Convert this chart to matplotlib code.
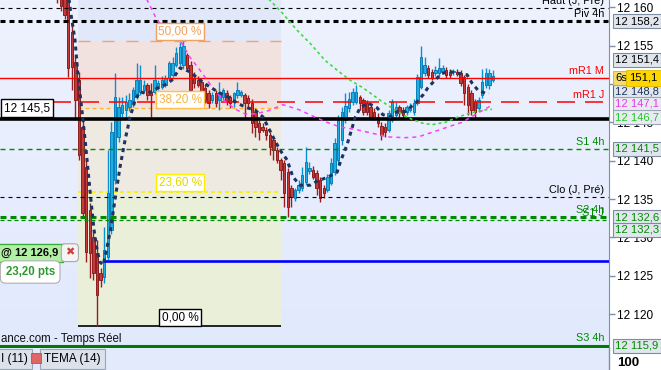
import numpy as np
import matplotlib.pyplot as plt
from matplotlib.colors import LinearSegmentedColormap
from matplotlib.lines import Line2D
from matplotlib.patches import Rectangle
from matplotlib.transforms import blended_transform_factory

plt.rcParams['font.family'] = ['Liberation Sans', 'DejaVu Sans']
plt.rcParams['lines.scale_dashes'] = False

# ---- candles (one per bar, left to right) ----
opens = [
    12172.0, 12169.0, 12166.0, 12161.5, 12156.8, 12152.9, 12150.5, 12144.4, 12139.2, 12133.6,
    12130.1, 12128.0, 12125.4, 12124.8, 12127.5, 12131.0, 12137.5, 12143.1, 12146.2, 12146.6,
    12147.0, 12147.5, 12148.3, 12149.0, 12149.2, 12149.9, 12148.8, 12149.0, 12149.5, 12149.6,
    12149.9, 12150.8, 12151.2, 12152.5, 12152.7, 12152.5, 12153.8, 12152.5, 12150.8, 12150.5,
    12150.3, 12149.5, 12148.8, 12147.9, 12148.8, 12147.9, 12148.3, 12148.8, 12148.3, 12147.9,
    12148.6, 12148.6, 12148.6, 12148.2, 12147.5, 12146.4, 12144.9, 12144.4, 12144.0, 12143.4,
    12142.7, 12141.4, 12140.1, 12139.7, 12138.5, 12136.4, 12135.1, 12136.2, 12136.4, 12137.2,
    12138.6, 12138.8, 12138.4, 12137.5, 12136.4, 12136.2, 12137.1, 12138.5, 12140.1, 12142.7,
    12145.3, 12146.9, 12147.7, 12147.7, 12148.3, 12147.9, 12147.5, 12147.0, 12146.4, 12145.7,
    12144.5, 12144.4, 12144.0, 12145.3, 12146.0, 12147.0, 12146.6, 12146.4, 12146.6, 12146.4,
    12147.5, 12149.6, 12151.4, 12152.1, 12151.6, 12151.4, 12151.4, 12151.6, 12151.8, 12151.6,
    12151.5, 12151.6, 12151.4, 12150.9, 12149.6, 12148.8, 12147.7, 12146.9, 12148.6, 12149.9,
    12149.9, 12150.5,
]
highs = [
    12175.0, 12171.0, 12168.0, 12163.0, 12158.0, 12153.8, 12151.5, 12145.5, 12140.1, 12134.5,
    12131.0, 12129.7, 12126.0, 12131.4, 12141.4, 12145.0, 12151.4, 12148.3, 12148.3, 12148.5,
    12148.8, 12149.6, 12152.7, 12152.5, 12150.5, 12150.1, 12150.1, 12152.5, 12150.5, 12151.0,
    12151.2, 12153.0, 12153.5, 12154.8, 12155.5, 12155.6, 12154.1, 12153.0, 12151.5, 12151.0,
    12150.8, 12150.0, 12149.2, 12149.0, 12149.2, 12150.3, 12149.5, 12149.2, 12148.6, 12149.0,
    12150.3, 12149.2, 12148.8, 12148.5, 12148.0, 12146.8, 12145.3, 12144.9, 12144.4, 12143.7,
    12143.1, 12141.8, 12140.4, 12140.1, 12139.0, 12136.8, 12136.4, 12137.5, 12139.2, 12141.8,
    12139.8, 12139.3, 12138.8, 12137.9, 12136.8, 12138.3, 12140.4, 12143.0, 12146.0, 12147.0,
    12148.8, 12149.0, 12149.5, 12149.9, 12148.6, 12148.2, 12147.9, 12147.3, 12146.9, 12146.2,
    12145.0, 12144.9, 12146.6, 12148.0, 12147.7, 12147.3, 12147.0, 12147.3, 12147.5, 12148.0,
    12151.3, 12155.0, 12153.5, 12152.5, 12152.0, 12152.3, 12153.4, 12152.5, 12152.2, 12152.0,
    12152.0, 12151.9, 12151.8, 12151.2, 12150.0, 12149.2, 12148.0, 12148.3, 12151.9, 12152.1,
    12151.9, 12151.8,
]
lows = [
    12160.6, 12159.5, 12158.5, 12150.9, 12149.2, 12145.3, 12140.1, 12132.5, 12126.8, 12124.7,
    12124.4, 12118.4, 12123.5, 12124.0, 12127.0, 12130.5, 12137.0, 12142.5, 12145.5, 12145.7,
    12146.5, 12147.0, 12148.0, 12148.6, 12148.8, 12147.9, 12145.7, 12148.7, 12149.2, 12149.3,
    12149.6, 12150.5, 12150.9, 12152.2, 12152.4, 12152.0, 12151.8, 12148.8, 12149.5, 12149.6,
    12147.9, 12147.5, 12146.9, 12147.5, 12147.0, 12146.6, 12147.9, 12147.3, 12146.9, 12147.0,
    12148.2, 12148.3, 12145.7, 12146.9, 12143.6, 12143.1, 12142.7, 12143.7, 12142.7, 12140.7,
    12140.1, 12139.7, 12137.5, 12134.0, 12132.7, 12134.0, 12134.8, 12135.8, 12136.0, 12136.8,
    12138.2, 12137.6, 12135.5, 12134.6, 12135.1, 12135.9, 12136.8, 12138.1, 12139.6, 12142.0,
    12144.9, 12146.4, 12147.3, 12147.4, 12146.6, 12145.9, 12146.0, 12145.3, 12145.3, 12144.4,
    12142.7, 12143.1, 12143.7, 12145.0, 12145.7, 12145.7, 12145.5, 12146.0, 12146.3, 12146.0,
    12147.2, 12149.3, 12151.0, 12150.8, 12150.5, 12151.0, 12151.0, 12151.3, 12150.8, 12150.8,
    12151.2, 12151.0, 12149.8, 12147.2, 12145.9, 12145.9, 12145.5, 12146.5, 12148.2, 12149.5,
    12149.4, 12150.2,
]
closes = [
    12163.0, 12160.2, 12159.0, 12152.1, 12152.2, 12147.9, 12140.7, 12133.2, 12128.1, 12128.0,
    12125.4, 12122.5, 12124.4, 12128.4, 12135.8, 12143.7, 12148.3, 12147.0, 12147.3, 12147.7,
    12147.9, 12149.2, 12150.5, 12150.5, 12149.9, 12148.6, 12148.6, 12150.5, 12150.1, 12150.5,
    12150.8, 12152.7, 12152.7, 12154.0, 12154.8, 12155.0, 12152.1, 12149.2, 12150.1, 12149.9,
    12148.3, 12147.9, 12147.5, 12148.6, 12147.5, 12149.0, 12149.2, 12147.7, 12147.5, 12148.8,
    12149.2, 12149.0, 12147.5, 12147.5, 12144.9, 12144.4, 12143.7, 12144.0, 12143.4, 12141.8,
    12141.4, 12140.1, 12138.8, 12135.8, 12134.0, 12135.3, 12136.2, 12136.8, 12138.1, 12139.8,
    12139.1, 12137.9, 12136.4, 12135.1, 12135.8, 12137.9, 12139.7, 12142.3, 12145.3, 12146.4,
    12147.1, 12148.0, 12149.0, 12149.0, 12147.5, 12146.4, 12146.4, 12145.7, 12145.7, 12144.9,
    12143.4, 12143.7, 12146.2, 12147.7, 12147.0, 12146.2, 12146.0, 12147.0, 12147.0, 12147.5,
    12150.9, 12153.5, 12152.5, 12151.2, 12150.8, 12151.8, 12152.1, 12152.1, 12151.2, 12151.2,
    12151.7, 12151.3, 12150.1, 12148.8, 12147.3, 12146.6, 12146.4, 12147.9, 12150.3, 12151.4,
    12151.4, 12151.1,
]

# ---- indicator curves, read at bar positions ----
navy_x = [2.9, 3.8, 4.9, 5.7, 6.8, 7.7, 8.5, 9.3, 10.2, 11.0, 11.8, 12.7, 13.2, 14.6, 16.0,
          17.4, 18.8, 20.2, 21.6, 22.9, 24.3, 26.3, 27.9, 29.9, 31.8, 34.1, 36.8, 39.6, 42.4,
          45.2, 47.9, 49.9, 52.7, 54.9, 57.1, 58.5, 59.9, 61.8, 63.8, 65.4, 67.4, 70.2, 72.4,
          74.9, 77.7, 78.5, 79.3, 80.4, 81.3, 82.7, 84.1, 86.3, 88.8, 90.4, 92.4, 94.3, 96.6,
          97.9, 99.9, 101.6, 102.9, 104.9, 106.8, 109.1, 111.3, 113.8, 115.2, 116.8, 118.8, 119.9]
navy_y = [12162.2, 12159.0, 12155.7, 12151.2, 12146.6, 12142.7, 12138.8, 12134.9, 12130.9,
          12128.4, 12126.8, 12126.4, 12127.4, 12130.6, 12134.9, 12139.2, 12142.7, 12145.7,
          12147.9, 12149.0, 12148.8, 12149.0, 12149.5, 12149.9, 12150.5, 12152.1, 12151.6,
          12150.5, 12149.6, 12148.8, 12148.2, 12147.5, 12146.9, 12146.6, 12145.7, 12144.4,
          12143.1, 12141.4, 12140.1, 12137.9, 12136.8, 12136.8, 12137.4, 12137.8, 12138.5,
          12139.7, 12140.7, 12142.0, 12143.4, 12145.6, 12146.9, 12147.5, 12146.9, 12146.0,
          12145.7, 12146.4, 12146.4, 12146.9, 12147.7, 12148.6, 12149.5, 12150.5, 12151.4,
          12151.6, 12151.4, 12151.2, 12150.1, 12149.2, 12148.8, 12148.8]

pink_x = [22.9, 27.7, 34.6, 36.8, 39.6, 41.6, 44.3, 47.1, 49.9, 52.1, 54.9, 58.5, 62.7, 67.4,
          71.0, 74.9, 78.5, 83.5, 88.2, 91.8, 96.6, 100.2, 104.1, 108.5, 112.4, 116.0, 120.2]
pink_y = [12162.9, 12158.3, 12155.3, 12153.5, 12151.8, 12150.5, 12148.8, 12147.5, 12146.6,
          12146.1, 12146.1, 12146.5, 12147.3, 12146.6, 12145.8, 12145.0, 12144.4, 12144.0,
          12143.5, 12143.1, 12143.0, 12143.1, 12143.7, 12144.4, 12145.0, 12146.0, 12147.1]

green_x = [56.8, 62.4, 66.6, 70.2, 74.3, 77.7, 81.3, 84.9, 89.6, 93.8, 97.4, 101.3, 104.1,
           107.7, 111.3, 114.6, 118.2, 120.7]
green_y = [12162.0, 12159.3, 12157.0, 12155.3, 12153.1, 12151.8, 12150.5, 12149.5, 12147.9,
           12146.6, 12145.6, 12144.9, 12144.7, 12145.0, 12145.7, 12146.2, 12146.6, 12146.7]

# ---- horizontal levels ----
HAUT_JP = 12159.9
PIV_4H = 12158.2
MR1_M = 12150.8
MR1_J = 12147.65
LAST_MARK = 12145.5
S1_4H = 12141.5
CLO_JP = 12135.3
S2_4H = 12132.6
S1_J = 12132.3
ORDER = 12126.9
S3_4H = 12115.9
HIGH_MARK = 12151.4
ORDER_PTS = 23.20

# fibonacci retracement (bar span, 0 % level, full range)
FIB_START, FIB_END = 5.7, 62.1
FIB_LOW, FIB_RANGE = 12118.4, 74.45
fib_pcts = [0.0, 0.236, 0.382, 0.5]
fib_labels = ['0,00 %', '23,60 %', '38,20 %', '50,00 %']

MR1_J_START = -1.2
ORDER_START = 12.7
FIB_LABEL_X = 34.1

W, H = 661, 370
AX_W, AX_H = 609, 348
PX_PER_BAR, X0_PX = 3.6, 57.4
PX_PER_PT, TOP_PRICE = 7.67, 12160.95


def fmt(p):
    return f"{p:,.1f}".replace(',', ' ').replace('.', ',')


def dash(on, off):
    return (0, (on * 0.72, off * 0.72))


def fib_level(p):
    return FIB_LOW + p * FIB_RANGE


fig = plt.figure(figsize=(W / 100, H / 100), dpi=100, facecolor='white')
ax = fig.add_axes([0, (H - AX_H) / H, AX_W / W, AX_H / H])

bg = LinearSegmentedColormap.from_list('bg', ['#eef2fd', '#e1e9fe'])
ax.imshow(np.linspace(0, 1, 256).reshape(-1, 1), extent=[0, 1, 0, 1],
          transform=ax.transAxes, cmap=bg, aspect='auto', zorder=0)

xlo = -X0_PX / PX_PER_BAR
xhi = (AX_W - X0_PX) / PX_PER_BAR
ylo = TOP_PRICE - AX_H / PX_PER_PT
ax.set_xlim(xlo, xhi)
ax.set_ylim(ylo, TOP_PRICE)

# fib zones
fx = [FIB_START, FIB_END]
ax.fill_between(fx, fib_level(0.5), TOP_PRICE + 5, color='#e1e8fa', lw=0, zorder=0.5)
ax.fill_between(fx, fib_level(0.382), fib_level(0.5), color='#f2e2df', lw=0, zorder=0.5)
ax.fill_between(fx, fib_level(0.236), fib_level(0.382), color='#eeeae2', lw=0, zorder=0.5)
ax.fill_between(fx, fib_level(0.0), fib_level(0.236), color='#e9efd9', lw=0, zorder=0.5)
ax.hlines(fib_level(0.0), FIB_START, FIB_END, color='black', lw=1.2, zorder=2)
ax.hlines(fib_level(0.5), FIB_START, FIB_END, color='#f3a36a', lw=1.0,
          linestyle=dash(12, 12), zorder=2)
ax.hlines(fib_level(0.382), FIB_START, FIB_END, color='#ffb52e', lw=1.0,
          linestyle=dash(4, 3), zorder=2)
ax.hlines(fib_level(0.236), FIB_START, FIB_END, color='#ffee00', lw=1.2,
          linestyle=dash(4, 3), zorder=2)

fib_styles = {'0,00 %': ('black', 'black'), '23,60 %': ('#e0d800', '#ffee00'),
              '38,20 %': ('#f7b440', '#ffc04d'), '50,00 %': ('#f5a05a', '#f0a060')}
for pct, lab in zip(fib_pcts, fib_labels):
    tc, ec = fib_styles[lab]
    ax.annotate(lab, (FIB_LABEL_X, fib_level(pct)), xytext=(0, 2.2), textcoords='offset points',
                ha='center', va='bottom', fontsize=8.5, color=tc, zorder=7,
                bbox=dict(boxstyle='square,pad=0.22', fc='white', ec=ec, lw=1))

# candles
idx = np.arange(len(opens))
o, h, l, c = (np.array(v) for v in (opens, highs, lows, closes))
up = c >= o
body_lo = np.minimum(o, c)
body_h = np.maximum(np.abs(c - o), 0.15)
ax.vlines(idx[up], l[up], h[up], color='#0a8fd0', lw=1.0, zorder=3)
ax.vlines(idx[~up], l[~up], h[~up], color='#9a1c1c', lw=1.0, zorder=3)
ax.bar(idx[up], body_h[up], bottom=body_lo[up], width=0.72, color='#1eaee3',
       edgecolor='#0a7db8', lw=0.7, zorder=3.2)
ax.bar(idx[~up], body_h[~up], bottom=body_lo[~up], width=0.72, color='#c43a3a',
       edgecolor='#8e1d1d', lw=0.7, zorder=3.2)

# horizontal levels
ax.axhline(HAUT_JP, color='black', lw=0.8, linestyle=dash(4, 4), zorder=4)
ax.axhline(PIV_4H, color='black', lw=2.2, linestyle=dash(5, 4), zorder=4)
ax.axhline(MR1_M, color='#ff0000', lw=1.0, zorder=4)
ax.hlines(MR1_J, MR1_J_START, xhi, color='#ff0000', lw=1.1, linestyle=dash(18, 10), zorder=4)
ax.axhline(LAST_MARK, color='black', lw=2.6, zorder=4.5)
ax.axhline(S1_4H, color='#008a00', lw=1.0, linestyle=dash(5, 4), zorder=4)
ax.axhline(CLO_JP, color='black', lw=0.8, linestyle=dash(4, 4), zorder=4)
ax.axhline(S2_4H, color='#008a00', lw=2.2, linestyle=dash(6, 4), zorder=4)
ax.axhline(S1_J, color='#008a00', lw=0.9, linestyle=dash(4, 3), zorder=4)
ax.hlines(ORDER, ORDER_START, xhi, color='#0000ff', lw=1.9, zorder=4)
ax.axhline(S3_4H, color='#007a00', lw=2.2, zorder=4)

# indicator curves
ax.plot(green_x, green_y, color='#3ddc3d', lw=1.2, linestyle=dash(3, 3), zorder=5)
ax.plot(pink_x, pink_y, color='#ff3cff', lw=1.1, linestyle=dash(4, 4), zorder=5)
ax.plot(navy_x, navy_y, color='#1c355e', lw=2.2, linestyle=dash(4, 4), zorder=5.5)

# level names, right side inside plot
tr_right = blended_transform_factory(ax.transAxes, ax.transData)
names = [(HAUT_JP, 'Haut (J, Pré)', 'black'), (PIV_4H, 'Piv 4h', 'black'),
         (MR1_M, 'mR1 M', '#ff0000'), (MR1_J, 'mR1 J', '#ff0000'),
         (S1_4H, 'S1 4h', '#008a00'), (CLO_JP, 'Clo (J, Pré)', 'black'),
         (S2_4H, 'S2 4h', '#008a00'), (S1_J, 'S1 J', '#008a00'), (S3_4H, 'S3 4h', '#008a00')]
for lvl, name, col in names:
    ax.annotate(name, (604 / AX_W, lvl), xycoords=tr_right, xytext=(0, 1.5),
                textcoords='offset points', ha='right', va='bottom', fontsize=7.8,
                color=col, zorder=6)

# left price tag on the black line
ax.annotate(fmt(LAST_MARK), (1 / AX_W, LAST_MARK), xycoords=tr_right, xytext=(2, 3),
            textcoords='offset points', ha='left', va='bottom', fontsize=8.5, zorder=7,
            bbox=dict(boxstyle='square,pad=0.25', fc='white', ec='black', lw=1))

# order widget
ax.annotate('@ ' + fmt(ORDER), (0, ORDER), xycoords=tr_right, xytext=(1, 2.5),
            textcoords='offset points', ha='left', va='bottom', fontsize=8, weight='bold',
            zorder=7, bbox=dict(boxstyle='square,pad=0.35', fc='#b2f0a6', ec='#3aae3a', lw=1))
ax.annotate('\u2716', (61 / AX_W, ORDER), xycoords=tr_right, xytext=(3, 2.5),
            textcoords='offset points', ha='left', va='bottom', fontsize=8, color='#d43c3c',
            zorder=7.5, bbox=dict(boxstyle='round,pad=0.35', fc='#f4f4f4', ec='#a8a8a8', lw=0.8))
ax.annotate(f"{ORDER_PTS:.2f}".replace('.', ',') + ' pts', (0, ORDER), xycoords=tr_right,
            xytext=(4, -3.5), textcoords='offset points', ha='left', va='top', fontsize=8.3,
            weight='bold', color='#2e9a2e', zorder=7,
            bbox=dict(boxstyle='round,pad=0.45', fc='white', ec='#b0b0b0', lw=0.8))

ax.text(1 / AX_W, 1 - 339 / AX_H, 'ance.com - Temps Réel', transform=ax.transAxes,
        ha='left', va='center', fontsize=8.3, color='#111111', zorder=6)

# right price axis
ax.yaxis.tick_right()
ax.set_yticks(np.arange(12120, 12161, 5))
ax.set_yticklabels([fmt(v).replace(',0', '') for v in np.arange(12120, 12161, 5)])
ax.tick_params(axis='y', direction='out', length=4, width=1, color='#7f8fa6', pad=2,
               labelsize=8.5)
ax.set_xticks([])
for s in ('left', 'top'):
    ax.spines[s].set_visible(False)
ax.spines['right'].set_color('#7f8fa6')
ax.spines['bottom'].set_color('#7f8fa6')

box_x = 615 / AX_W
tags = [
    (21, fmt(PIV_4H), 'black', '#e1e6ee', '#7d8ca0'),
    (60, fmt(HIGH_MARK), 'black', '#e1e6ee', '#7d8ca0'),
    (92, fmt(navy_y[-1]), '#1c355e', '#e1e6ee', '#4a6aa0'),
    (104, fmt(pink_y[-1]), '#e43ce4', '#e8ecf2', '#9aa6b6'),
    (117, fmt(green_y[-1]), '#22c822', '#e8ecf2', '#9aa6b6'),
    (149, fmt(S1_4H), '#008a00', '#e1e6ee', '#7d8ca0'),
    (217, fmt(S2_4H), '#008a00', '#e1e6ee', '#7d8ca0'),
    (230, fmt(S1_J), '#008a00', '#e1e6ee', '#7d8ca0'),
    (346, fmt(S3_4H), '#008a00', '#e1e6ee', '#7d8ca0'),
]
for i, (ypx, txt, tc, fc, ec) in enumerate(tags):
    ax.text(box_x, 1 - ypx / AX_H, txt, transform=ax.transAxes, ha='left', va='center',
            fontsize=8.1, color=tc, zorder=8 + i * 0.1, clip_on=False,
            bbox=dict(boxstyle='square,pad=0.2', fc=fc, ec=ec, lw=0.8))

last_txt = fmt(closes[-1])[3:]
ax.text(box_x, 1 - 78 / AX_H, '6s', transform=ax.transAxes, ha='left', va='center',
        fontsize=8.1, zorder=9, clip_on=False,
        bbox=dict(boxstyle='square,pad=0.2', fc='#f3dc6a', ec='#c8b040', lw=0.6))
ax.text(629 / AX_W, 1 - 78 / AX_H, last_txt, transform=ax.transAxes, ha='left', va='center',
        fontsize=8.1, zorder=9, clip_on=False,
        bbox=dict(boxstyle='square,pad=0.28', fc='#ffd700', ec='#e0b800', lw=0.6))

# bottom legend strip
fig.patches.append(Rectangle((0, 0), AX_W / W, (H - AX_H) / H, transform=fig.transFigure,
                             fc='#e3eafb', ec='none', zorder=0))
fig.lines.append(Line2D([AX_W / W, AX_W / W], [0, (H - AX_H) / H], transform=fig.transFigure,
                        color='#7f8fa6', lw=1))
fig.text(1 / W, 1 - 359 / H, 'I (11)', ha='left', va='center', fontsize=8.5,
         bbox=dict(boxstyle='square,pad=0.35', fc='#dbe2ec', ec='#9aa6b5', lw=0.8))
fig.text(44 / W, 1 - 359 / H, 'TEMA (14)', ha='left', va='center', fontsize=8.5,
         bbox=dict(boxstyle='square,pad=0.35', fc='#dbe2ec', ec='#9aa6b5', lw=0.8))
fig.patches.append(Rectangle((31 / W, 1 - 363 / H), 10 / W, 10 / H, transform=fig.transFigure,
                             fc='#e06666', ec='#b04040', lw=0.5, zorder=5))
fig.text(617 / W, 1 - 363 / H, '100', ha='left', va='center', fontsize=9.5, weight='bold')

fig.savefig('out.png', dpi=100)
